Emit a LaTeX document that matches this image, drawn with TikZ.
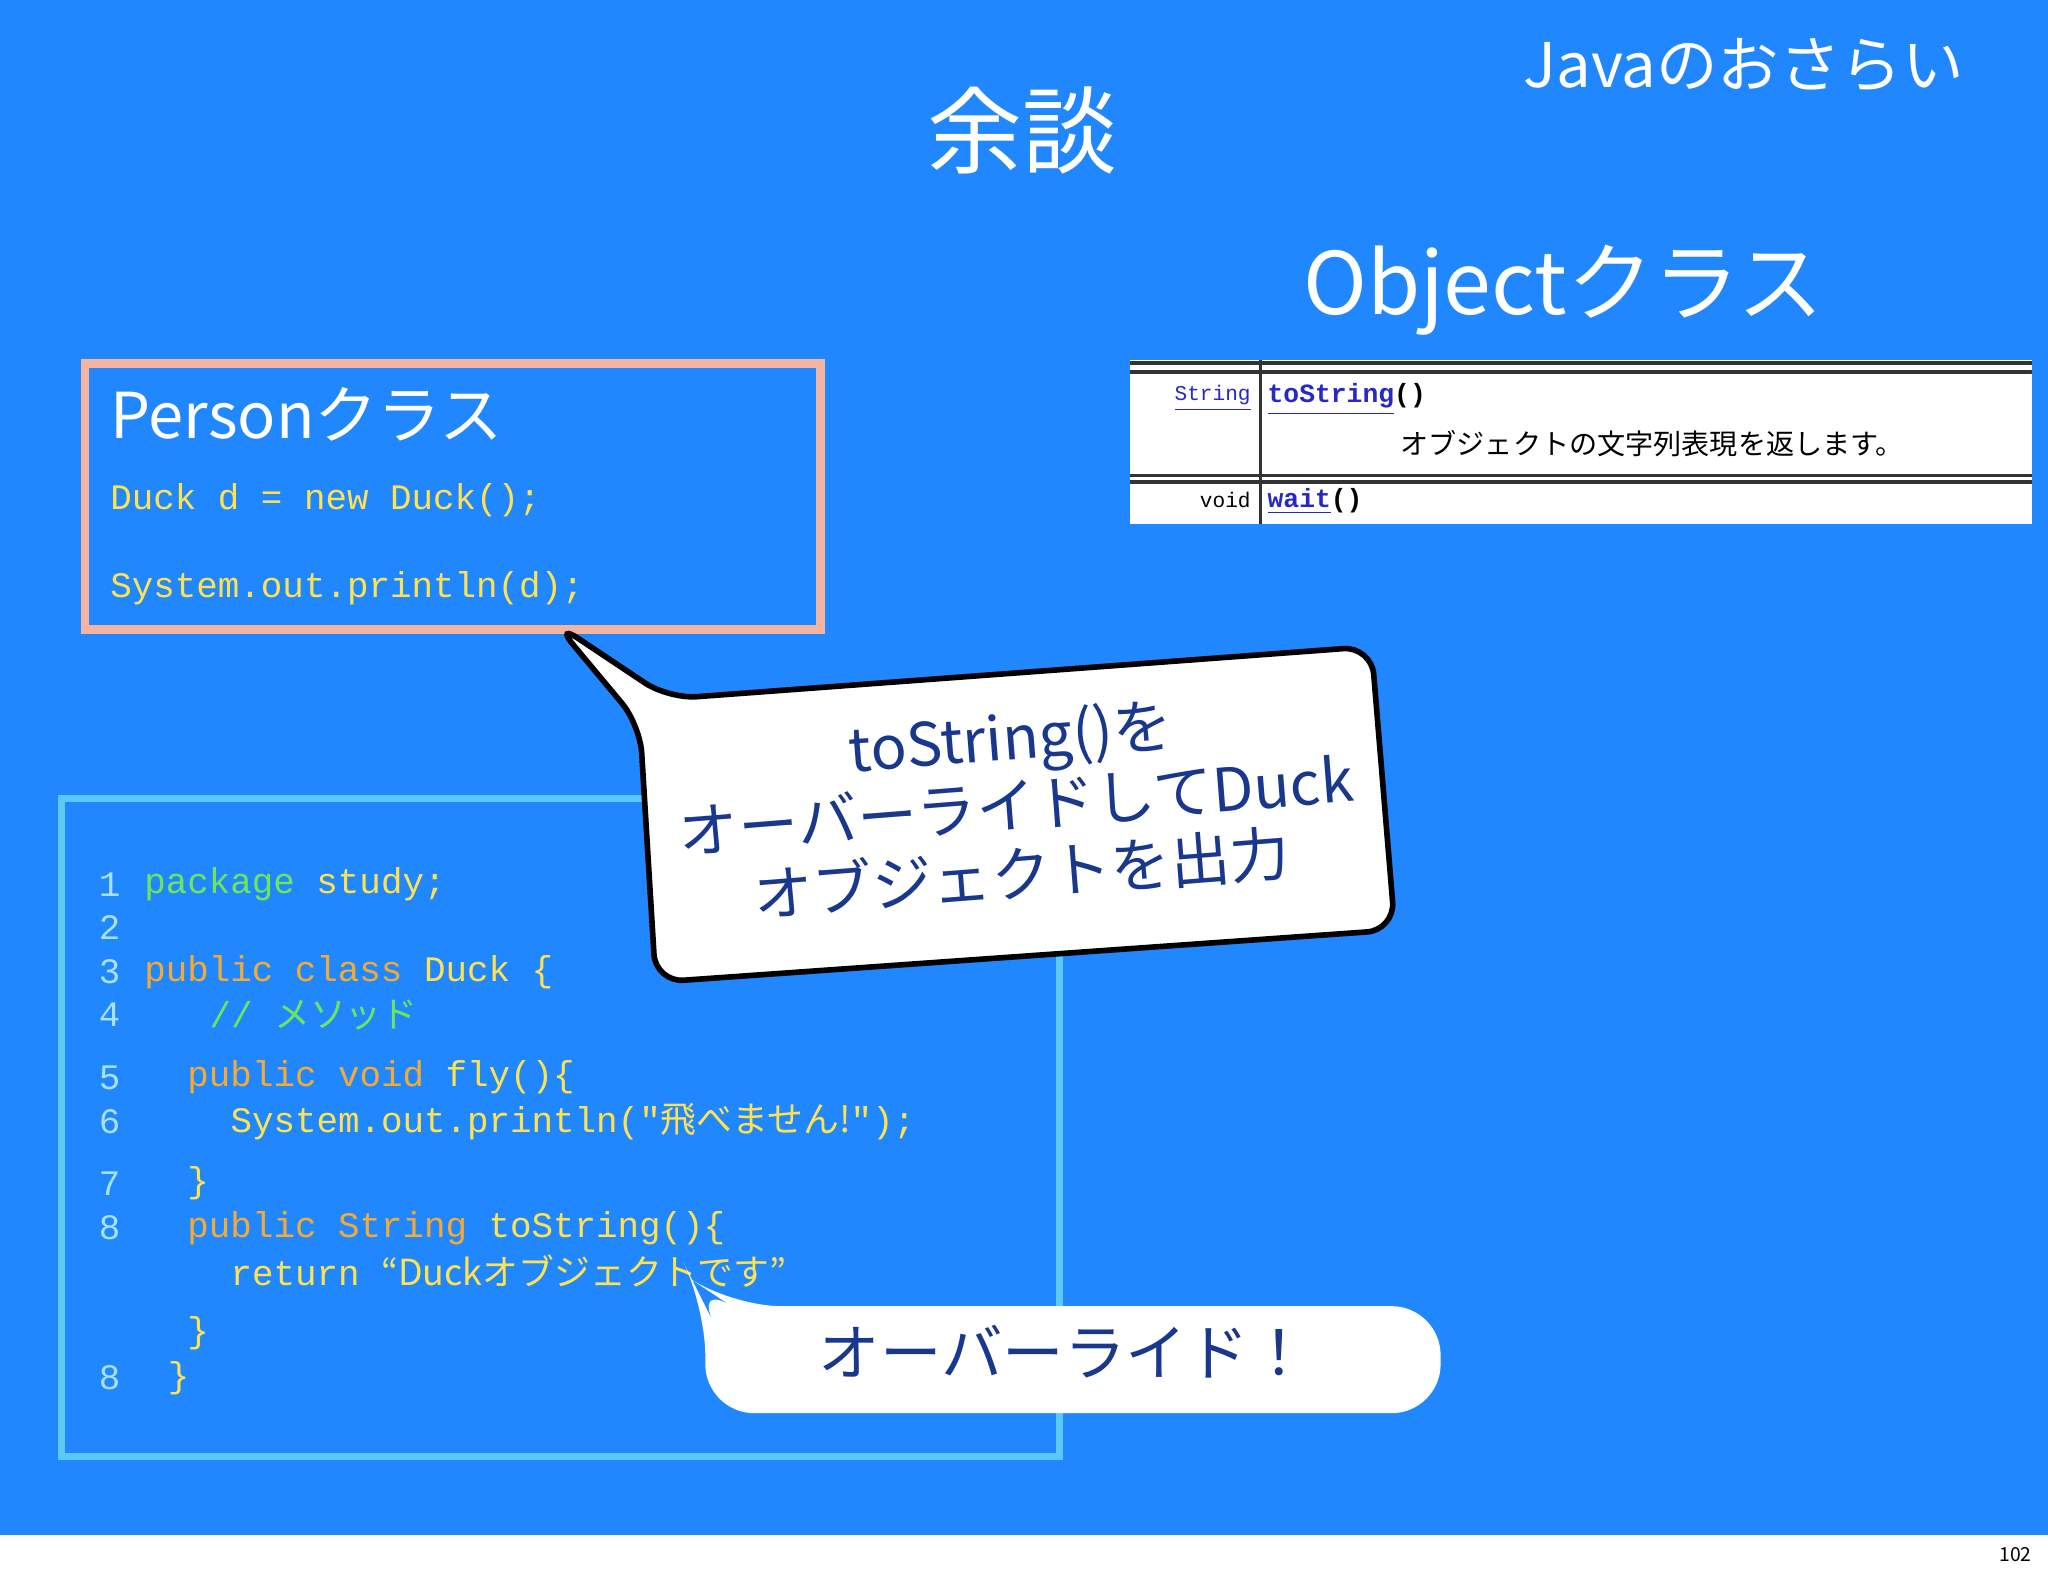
\documentclass[tikz,border=0pt]{standalone}
\usepackage{fontspec}
\setmainfont{Noto Sans CJK JP}
\setmonofont{Liberation Mono}
\newfontfamily\jp{Noto Sans CJK JP}
\usetikzlibrary{calc}
\definecolor{bg}{RGB}{33,135,255}
\definecolor{cyell}{RGB}{255,226,80}
\definecolor{cgreen}{RGB}{110,230,90}
\definecolor{corange}{RGB}{245,170,50}
\definecolor{cnum}{RGB}{170,225,255}
\definecolor{navy}{RGB}{25,55,140}
\definecolor{salmon}{RGB}{245,180,160}
\definecolor{lblue}{RGB}{90,200,250}
\definecolor{lnk}{RGB}{40,40,200}
\tikzset{
 code/.style={anchor=west,font=\ttfamily\fontsize{10.2}{12}\selectfont,inner sep=0,text=cyell},
 num/.style={anchor=center,font=\ttfamily\fontsize{10.2}{12}\selectfont,inner sep=0,text=cnum},
 wt/.style={text=white,inner sep=0},
 bubble/.style={fill=white,draw=black,line width=1.6pt,rounded corners=8pt}
}
\begin{document}
\begin{tikzpicture}[x=0.01306cm,y=-0.01306cm]
\fill[bg] (0,0) rectangle (1568,1175);
\fill[white] (0,1175) rectangle (1568,1207);
\useasboundingbox (0,0) rectangle (1568,1207);
\node[anchor=east,inner sep=0,font=\fontsize{5.5}{6}\selectfont] (pg) at (1556,1190) {102};
\node[wt,font=\fontsize{17.5}{20}\selectfont] (java) at (1335,50) {Javaのおさらい};
\node[wt,font=\fontsize{27}{30}\selectfont] (title) at (783,100) {余談};
\node[wt,font=\fontsize{24.5}{28}\selectfont] (obj) at (1197,222) {Objectクラス};
% table
\fill[white] (865,276) rectangle (1556,401);
\draw[black!80,line width=1.2pt] (865,278)--(1556,278) (865,285)--(1556,285);
\draw[black!80,line width=1pt] (965,276)--(965,401) (865,364)--(1556,364) (865,369)--(1556,369);
\node[anchor=east,inner sep=0,text=lnk,font=\ttfamily\fontsize{6}{7}\selectfont] (s1) at (958,305) {\underline{String}};
\node[anchor=west,inner sep=0,text=lnk,font=\ttfamily\bfseries\fontsize{7.5}{8}\selectfont] (s2) at (970,306) {\underline{toString}\textcolor{black}{()}};
\node[anchor=center,inner sep=0,font=\fontsize{8}{9}\selectfont] (s3) at (1265,340) {オブジェクトの文字列表現を返します。};
\node[anchor=east,inner sep=0,font=\ttfamily\fontsize{6}{7}\selectfont] (s4) at (958,383) {void};
\node[anchor=west,inner sep=0,text=lnk,font=\ttfamily\bfseries\fontsize{7.5}{8}\selectfont] (s5) at (970,384) {\underline{wait}\textcolor{black}{()}};
% person box
\draw[salmon,line width=2.5pt] (65,278) rectangle (628,482);
\node[wt,anchor=west,font=\fontsize{18}{20}\selectfont] (pc) at (84,317) {Personクラス};
\node[code] (p1) at (84,383) {Duck d = new Duck();};
\node[code] (p2) at (84,450) {System.out.println(d);};
% code box
\draw[lblue,line width=2pt] (47,611) rectangle (811,1115);
\foreach \n/\y in {1/677,2/710,3/744,4/777,5/825,6/859,7/906,8/940} \node[num] at (84,\y) {\n};
\node[num] (n9) at (84,1055) {8};
\node[code,text=cgreen] (c1) at (110,677) {package \textcolor{cyell}{study;}};
\node[code,text=corange] (c3) at (110,744) {public class \textcolor{cyell}{Duck \{}};
\node[code,text=cgreen] (c4) at (160,777) {// {\jp メソッド}};
\node[code,text=corange] (c5) at (143,825) {public void \textcolor{cyell}{fly()\{}};
\node[code] (c6) at (176,859) {System.out.println("{\jp 飛べません!}");};
\node[code] (c7) at (143,906) {\}};
\node[code,text=corange] (c8) at (143,940) {public String \textcolor{cyell}{toString()\{}};
\node[code] (c9) at (176,973) {return {\jp “Duckオブジェクトです”}};
\node[code] (c10) at (143,1021) {\}};
\node[code] (c11) at (128,1055) {\}};
% callout 1
\coordinate (t1) at (425,477);
\draw[bubble] (490,555) -- (t1) -- (512,535) -- (1050,495) -- (1068,712) -- (502,752) -- cycle;
\node[text=navy,rotate=4.5,align=center,inner sep=0,font=\fontsize{17}{19.5}\selectfont] (b1) at (778,617) {toString()を\\オーバーライドしてDuck\\オブジェクトを出力};
% callout 2
\coordinate (t2) at (530,980);
\draw[fill=white,draw=none,rounded corners=14pt] (540,1000) -- (t2) -- (560,1000) -- (1103,1000) -- (1103,1082) -- (540,1082) -- cycle;
\node[text=navy,inner sep=0,font=\fontsize{17.5}{20}\selectfont] (b2) at (815,1035) {オーバーライド！};
\end{tikzpicture}
\end{document}
